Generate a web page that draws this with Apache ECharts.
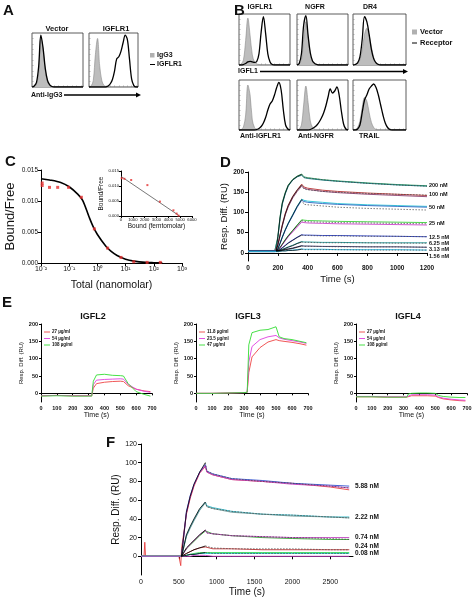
<!DOCTYPE html>
<html><head><meta charset="utf-8">
<script src="https://cdn.jsdelivr.net/npm/echarts@6/dist/echarts.min.js"></script>
<style>html,body{margin:0;padding:0;background:#fff}#c{width:475px;height:598px}</style>
</head><body><div id="c"></div>
<script>
// ================= DATA =================
// Panels A/B: flow-cytometry histograms, 24 log-fluorescence bins, % of max
const bins = [0,1,2,3,4,5,6,7,8,9,10,11,12,13,14,15,16,17,18,19,20,21,22,23];
const aVectorIgG  = [0,1,5,25,92,70,30,10,3,1,0,0,0,0,0,0,0,0,0,0,0,0,0,0];
const aVectorStain= [0,2,8,38,96,72,34,12,4,1,0,0,0,0,0,0,0,0,0,0,0,0,0,0];
const aIgflrIgG   = [0,2,12,60,90,40,12,3,1,0,0,0,0,0,0,0,0,0,0,0,0,0,0,0];
const aIgflrStain = [0,0,0,0,0,0,0,0,0,2,6,14,30,52,56,66,82,96,88,52,15,3,0,0];
const bIgflrVec   = [0,2,10,48,92,58,20,6,2,1,0,0,0,0,0,0,0,0,0,0,0,0,0,0];
const bIgflrRec   = [0,0,1,3,6,7,6,5,7,22,65,95,62,22,6,1,0,0,0,0,0,0,0,0];
const bNgfrVec    = [0,2,10,50,85,55,20,6,2,0,0,0,0,0,0,0,0,0,0,0,0,0,0,0];
const bNgfrRec    = [0,3,22,78,97,58,24,8,3,1,0,0,0,0,0,0,0,0,0,0,0,0,0,0];
const bDr4Vec     = [0,1,3,10,30,60,72,58,35,15,5,2,0,0,0,0,0,0,0,0,0,0,0,0];
const bDr4Rec     = [0,1,4,16,50,95,85,60,30,12,4,1,0,0,0,0,0,0,0,0,0,0,0,0];
const bAIgflrVec  = [0,1,6,30,90,70,20,5,1,0,0,0,0,0,0,0,0,0,0,0,0,0,0,0];
const bAIgflrRec  = [0,0,0,0,0,0,0,0,1,3,7,14,25,40,52,58,70,85,95,80,40,10,2,0];
const bANgfrVec   = [0,2,10,50,88,55,18,5,1,0,0,0,0,0,0,0,0,0,0,0,0,0,0,0];
const bANgfrRec   = [0,0,0,0,0,0,1,3,6,10,16,24,34,48,66,82,74,78,86,70,38,12,2,0];
const bTrailVec   = [0,1,5,18,45,65,58,35,15,5,1,0,0,0,0,0,0,0,0,0,0,0,0,0];
const bTrailRec   = [0,0,2,10,35,60,70,82,88,92,85,70,50,30,14,5,1,0,0,0,0,0,0,0];
const aTitles = ['Vector','IGFLR1'];
const aLegend = ['IgG3','IGFLR1'];
const bTitles = ['IGFLR1','NGFR','DR4'];
const bBottom = ['Anti-IGFLR1','Anti-NGFR','TRAIL'];
const bLegend = ['Vector','Receptor'];

// Panel C: Bound/Free vs total (nM), plus Scatchard inset
const cTotal = [0.011,0.011,0.02,0.039,0.095,0.27,0.78,2.3,6.9,19.5,58,170];
const cBF    = [0.0129,0.0125,0.0122,0.0122,0.0122,0.0106,0.0055,0.0024,0.0009,0.0002,0.0001,0.0001];
const cFitX  = [0.01,0.02,0.05,0.1,0.2,0.3,0.5,0.7,1,2,3,5,10,20,50,100,200];
const cFitY  = [0.0136,0.0134,0.0130,0.0123,0.0111,0.0101,0.0075,0.0059,0.0046,0.0027,0.0019,0.0012,0.0006,0.0003,0.0001,0.00005,0.00002];
const cBound = [60,290,860,2230,3290,4430,4700,4860];
const cBFin  = [0.0126,0.0124,0.0120,0.0103,0.0048,0.0019,0.0008,0.0001];
const cLineX = [0,4950];
const cLineY = [0.0132,0];

// Panel D: IGFL1 on IGFLR1 sensorgrams (RU) by concentration
const tD = [0,180,190,200,215,230,250,270,300,330,360,375,400,500,600,800,1000,1200];
const d200a = [5,5,7,40,90,125,150,168,182,190,195,188,186,181,178,173,169,166];
const d200b = [6,6,8,36,84,120,146,165,180,188,192,186,184,180,177,172,168,165];
const d100a = [4,4,5,20,45,70,98,118,140,156,170,163,160,155,152,148,145,142];
const d100b = [3,3,4,18,42,66,94,114,136,152,165,160,157,152,149,145,142,139];
const d50a  = [5,5,5,10,25,40,58,74,95,116,133,130,128,125,122,119,117,115];
const d50b  = [4,4,4,9,23,38,56,72,92,113,130,127,125,122,120,117,115,113];
const d25a  = [5,5,5,6,14,22,33,43,56,69,82,81,80,79,78,77,76,75];
const d25b  = [4,4,4,5,12,20,30,40,52,64,76,75,74,73,72,71,70,69];
const d12a  = [5,5,5,5,9,13,19,25,32,39,45,44,44,43,43,42,41,40];
const d6a   = [4,4,4,4,7,9,12,15,19,24,28,27,27,26,26,25,25,25];
const d3a   = [5,5,5,5,6,7,9,10,12,15,18,17,17,16,16,15,15,14];
const d1a   = [3,3,3,3,4,5,5,6,7,8,10,9,9,9,8,8,8,7];
const tDfit = [190,200,215,230,250,270,300,330,360,375,400,500,600,800,1000,1200];
const fD200 = [5,40,88,123,148,167,181,189,194,187,185,181,177,172,168,165];
const fD100 = [5,20,44,68,96,117,139,155,168,158,156,152,150,147,145,143];
const fD50  = [5,10,24,39,57,73,94,115,132,120,119,116,113,110,108,106];
const fD25  = [5,6,13,21,32,42,55,68,80,78,77,76,75,74,73,72];
const fD12  = [5,5,8,12,18,24,31,38,44,43,43,42,42,41,41,40];
const fD6   = [5,5,6,8,11,14,18,23,27,26,26,25,25,25,24,24];
const fD3   = [5,5,5,6,8,9,11,14,17,16,16,16,15,15,15,14];
const fD1   = [5,5,5,5,5,6,6,7,9,8,8,8,8,7,7,7];
const dLabels = ['200 nM','100 nM','50 nM','25 nM','12.5 nM','6.25 nM','3.13 nM','1.56 nM'];

// Panel E: IGFL2/3/4 on IGFLR1
const tE = [0,100,200,300,320,330,350,400,450,500,520,550,600,650,690];
const e2a = [-7,-6,-7,-7,-7,15,28,32,34,35,34,22,12,7,5];
const e2b = [-7,-6,-7,-7,-7,25,38,40,41,42,41,26,12,6,3];
const e2c = [-8,-7,-8,-8,-8,35,53,55,52,51,50,28,5,-3,-8];
const e3a = [0,0,1,2,3,60,105,132,148,155,152,150,147,143,139];
const e3b = [0,0,1,2,3,90,135,155,163,167,160,156,152,148,144];
const e3c = [0,0,1,2,3,140,175,182,184,192,163,158,155,150,146];
const e4a = [-10,-10,-11,-11,-11,-8,-7,-7,-7,-8,-12,-16,-19,-21,-22];
const e4b = [-9,-9,-10,-10,-10,-5,-4,-4,-4,-5,-10,-14,-17,-19,-20];
const e4c = [-10,-10,-11,-11,-11,-2,0,1,1,0,-6,-9,-11,-12,-12];
const eTitles = ['IGFL2','IGFL3','IGFL4'];
const e2Legend = ['27 µg/ml','54 µg/ml','108 µg/ml'];
const e3Legend = ['11.8 µg/ml','23.5 µg/ml','47 µg/ml'];
const e4Legend = ['27 µg/ml','54 µg/ml','108 µg/ml'];

// Panel F: IGFL1 on IGFLR1 (low concentrations)
const tF = [0,40,50,60,500,525,535,545,600,650,700,775,850,870,950,1200,1600,2000,2500,2750];
const f588a = [0,0,15,0,0,-10,8,10,45,62,75,89,96,90,87,82,80,78,74,71];
const f588b = [0,0,0,0,0,0,0,8,48,65,77,90,98,91,88,83,81,78,76,75];
const f588c = [0,0,0,0,0,0,0,7,46,63,76,89,97,90,87,82,80,77,75,73];
const f222a = [0,0,0,0,0,0,0,3,22,31,39,50,58,54,52,48,45,44,42,42];
const f222b = [0,0,0,0,0,0,0,3,21,30,38,49,57,53,51,47,45,43,42,41];
const f074a = [0,0,0,0,0,0,0,1,8,12,16,22,27,25,24,22,20,19,18,18];
const f074b = [0,0,0,0,0,0,0,1,8,13,17,23,28,25,24,22,21,20,20,20];
const f024a = [0,0,0,0,0,0,0,0,3,5,7,9,10,9,8,8,7,7,7,7];
const f008a = [0,0,0,0,0,0,0,0,1,2,3,4,4,4,4,4,4,4,4,4];
const f008b = [0,0,0,0,0,0,0,0,1,2,2,3,3,3,3,3,3,3,3,3];
const f000a = [0,0,0,0,0,0,0,0,0,0,1,1,1,0,0,0,0,0,0,0];
const tFfit = [535,545,600,650,700,775,850,870,950,1200,1600,2000,2500,2750];
const fF588 = [0,8,47,64,77,90,100,91,88,83,80,78,75,73];
const fF222 = [0,3,23,32,40,51,58,53,51,48,45,44,42,41];
const fF074 = [0,1,9,13,17,23,28,25,24,22,21,20,19,18];
const fF024 = [0,0,3,5,7,9,11,9,9,8,8,8,7,7];
const fF008 = [0,0,1,2,2,3,4,3,3,3,3,3,3,3];
const fLabels = ['5.88 nM','2.22 nM','0.74 nM','0.24 nM','0.08 nM'];

// ================= CHART =================
const FF = '"Liberation Sans", Arial, Helvetica, sans-serif';
const chart = echarts.init(document.getElementById('c'), null, {renderer:'canvas', width:475, height:598});

const BX = 10; // panel B horizontal offset
const grids = [
  {left:32, top:33, width:51, height:54},
  {left:89, top:33, width:49, height:54},
  {left:229+BX, top:14, width:51, height:51},
  {left:287+BX, top:14, width:51, height:51},
  {left:343+BX, top:14, width:53, height:51},
  {left:229+BX, top:80, width:51, height:50},
  {left:287+BX, top:80, width:51, height:50},
  {left:343+BX, top:80, width:53, height:50},
  {left:41, top:170, width:141, height:93},
  {left:121, top:171, width:71, height:45},
  {left:248, top:172, width:179, height:89},
  {left:41, top:324, width:111, height:78},
  {left:196, top:324, width:112, height:78},
  {left:356, top:324, width:111, height:78},
  {left:141, top:444, width:212, height:132}
];
grids.forEach((g,i)=>{
  g.containLabel = false;
  if (i < 8) { g.show = true; g.borderColor = '#333'; g.borderWidth = 0.8; }
  if (i === 9) { g.show = true; g.backgroundColor = '#fff'; g.borderWidth = 0; }
});

const xAxis = [], yAxis = [];
const axLine = {show:true, lineStyle:{color:'#000', width:1}};
const plain = v => String(v);
function lab(size, extra){ return Object.assign({fontSize:size, fontFamily:FF, color:'#111', fontWeight:'bold'}, extra||{}); }
function nameStyle(size){ return {fontSize:size, fontFamily:FF, color:'#111'}; }

for (let i=0;i<8;i++){
  const hx = {gridIndex:i, type:'value', min:0, max:23, splitNumber:12,
    axisLine:{show:false}, axisTick:{show:true, inside:true, length:1.5, lineStyle:{color:'#888', width:0.6}},
    axisLabel:{show:false}, splitLine:{show:false}};
  xAxis.push(hx);
  yAxis.push(Object.assign({}, hx, {max:100, splitNumber:10}));
}
// C main
const SUP = {'-':'\u207B','0':'\u2070','1':'\u00B9','2':'\u00B2','3':'\u00B3'};
xAxis.push({gridIndex:8, type:'log', logBase:10, min:0.01, max:1000, axisLine:axLine,
  axisTick:{length:3, lineStyle:{color:'#000'}}, splitLine:{show:false},
  axisLabel:lab(7, {margin:3, fontWeight:'normal', formatter:v=>'10'+String(Math.round(Math.log10(v))).split('').map(c=>SUP[c]).join('')}),
  name:'Total (nanomolar)', nameLocation:'middle', nameGap:17, nameTextStyle:nameStyle(10.5)});
yAxis.push({gridIndex:8, type:'value', min:0, max:0.015, interval:0.005, axisLine:axLine,
  axisTick:{show:true, length:3, lineStyle:{color:'#000'}}, splitLine:{show:false},
  axisLabel:lab(6.5, {margin:3, fontWeight:'normal', formatter:v=>v.toFixed(3)}),
  name:'Bound/Free', nameLocation:'middle', nameGap:24, nameTextStyle:nameStyle(13)});
// C inset
xAxis.push({gridIndex:9, type:'value', min:0, max:6000, interval:1000, axisLine:axLine,
  axisTick:{length:2, lineStyle:{color:'#000'}}, splitLine:{show:false},
  axisLabel:lab(4.2, {margin:2, fontWeight:'normal', formatter:plain}),
  name:'Bound (femtomolar)', nameLocation:'middle', nameGap:7, nameTextStyle:nameStyle(6.5)});
yAxis.push({gridIndex:9, type:'value', min:0, max:0.015, interval:0.005, axisLine:axLine,
  axisTick:{show:true, length:2, lineStyle:{color:'#000'}}, splitLine:{show:false},
  axisLabel:lab(4.2, {margin:2, fontWeight:'normal', formatter:v=>v.toFixed(3)}),
  name:'Bound/Free', nameLocation:'middle', nameGap:15, nameTextStyle:nameStyle(6.5)});
// D
xAxis.push({gridIndex:10, type:'value', min:0, max:1200, interval:200, axisLine:axLine,
  axisTick:{length:3, lineStyle:{color:'#000'}}, splitLine:{show:false},
  axisLabel:lab(6.5, {margin:4, formatter:plain}),
  name:'Time (s)', nameLocation:'middle', nameGap:13, nameTextStyle:nameStyle(9.5)});
yAxis.push({gridIndex:10, type:'value', min:-20, max:200, axisLine:axLine,
  axisTick:{show:true, length:3, customValues:[0,50,100,150,200], lineStyle:{color:'#000'}}, splitLine:{show:false},
  axisLabel:lab(6.5, {margin:4, customValues:[0,50,100,150,200]}),
  name:'Resp. Diff. (RU)', nameLocation:'middle', nameGap:13, nameTextStyle:nameStyle(9.5)});
// E (3 panels)
for (let k=0;k<3;k++){
  xAxis.push({gridIndex:11+k, type:'value', min:0, max:700, interval:100, axisLine:axLine,
    axisTick:{length:2, lineStyle:{color:'#000'}}, splitLine:{show:false},
    axisLabel:lab(5.5, {margin:3, formatter:plain}),
    name:'Time (s)', nameLocation:'middle', nameGap:9, nameTextStyle:nameStyle(7)});
  yAxis.push({gridIndex:11+k, type:'value', min:-25, max:200, axisLine:axLine,
    axisTick:{show:true, length:2, customValues:[0,50,100,150,200], lineStyle:{color:'#000'}}, splitLine:{show:false},
    axisLabel:lab(5.5, {margin:3, customValues:[0,50,100,150,200]}),
    name:'Resp. Diff. (RU)', nameLocation:'middle', nameGap:17, nameTextStyle:nameStyle(6)});
}
// F
xAxis.push({gridIndex:14, type:'value', min:0, max:2800, axisLine:axLine,
  axisTick:{length:3, customValues:[0,500,1000,1500,2000,2500], lineStyle:{color:'#000'}}, splitLine:{show:false},
  axisLabel:lab(7, {margin:4, fontWeight:'normal', formatter:plain, customValues:[0,500,1000,1500,2000,2500]}),
  name:'Time (s)', nameLocation:'middle', nameGap:12, nameTextStyle:nameStyle(10)});
yAxis.push({gridIndex:14, type:'value', min:-20, max:120, interval:20, axisLine:axLine,
  axisTick:{show:true, length:3, lineStyle:{color:'#000'}}, splitLine:{show:false},
  axisLabel:lab(7, {margin:4, fontWeight:'normal', showMinLabel:false}),
  name:'Resp. Diff. (RU)', nameLocation:'middle', nameGap:17, nameTextStyle:nameStyle(10)});

const series = [];
function pairs(xs, ys){ return ys.map((y,i)=>[xs[i], y]); }
function line(gi, xs, ys, color, width, extra){
  series.push(Object.assign({type:'line', xAxisIndex:gi, yAxisIndex:gi, data:pairs(xs,ys),
    symbol:'none', silent:true, lineStyle:{color:color, width:width}}, extra||{}));
}
// histograms
const hists = [
  [0,aVectorIgG,aVectorStain],[1,aIgflrIgG,aIgflrStain],
  [2,bIgflrVec,bIgflrRec],[3,bNgfrVec,bNgfrRec],[4,bDr4Vec,bDr4Rec],
  [5,bAIgflrVec,bAIgflrRec],[6,bANgfrVec,bANgfrRec],[7,bTrailVec,bTrailRec]
];
hists.forEach(([gi,ctrl,stain])=>{
  line(gi, bins, ctrl, '#8a8a8a', 0.6, {smooth:0.35, areaStyle:{color:'#bdbdbd', opacity:1}, z:2});
  line(gi, bins, stain, '#000', 1.3, {smooth:0.35, z:3});
});
// C
line(8, cFitX, cFitY, '#000', 1.6, {smooth:0.3, z:2});
series.push({type:'scatter', xAxisIndex:8, yAxisIndex:8, data:pairs(cTotal,cBF), symbol:'rect', symbolSize:3, itemStyle:{color:'#e53030'}, silent:true, z:3});
line(9, cLineX, cLineY, '#555', 0.8, {z:2});
series.push({type:'scatter', xAxisIndex:9, yAxisIndex:9, data:pairs(cBound,cBFin), symbol:'rect', symbolSize:2, itemStyle:{color:'#e53030'}, silent:true, z:3});
// D
const dTraces = [
  [d200a,'#2e9e5b'],[d200b,'#157a80'],[d100a,'#b83232'],[d100b,'#8a3c6c'],
  [d50a,'#25c3d6'],[d50b,'#2a66c0'],[d25a,'#3ccf3c'],[d25b,'#cc44cc'],
  [d12a,'#2b3fc4'],[d6a,'#1f9b9b'],[d3a,'#303060'],[d1a,'#22b5e0']
];
dTraces.forEach(([arr,col])=>line(10, tD, arr, col, 0.9, {z:2}));
[fD200,fD100,fD50,fD25,fD12,fD6,fD3,fD1].forEach(arr=>{
  line(10, tDfit.slice(0,9), arr.slice(0,9), '#000', 0.7, {z:3});
  line(10, tDfit.slice(8), arr.slice(8), '#444', 0.7, {z:3, lineStyle:{color:'#444', width:0.7, type:[1.5,1.5]}});
});
// E
const eCols = ['#ee4444','#e040e0','#33dd33'];
[[11,[e2a,e2b,e2c]],[12,[e3a,e3b,e3c]],[13,[e4a,e4b,e4c]]].forEach(([gi,arrs])=>{
  arrs.forEach((arr,k)=>line(gi, tE, arr, eCols[k], 0.9, {z:2+k}));
});
// F
const fTraces = [
  [f588a,'#e84040'],[f588b,'#3050d0'],[f588c,'#c040c0'],
  [f222a,'#28b8c8'],[f222b,'#6a9a9a'],
  [f074a,'#2aa02a'],[f074b,'#c040c0'],
  [f024a,'#c03030'],[f008a,'#33dd55'],[f008b,'#22cccc'],[f000a,'#c040c0']
];
fTraces.forEach(([arr,col])=>line(14, tF, arr, col, 0.9, {z:2}));
[fF588,fF222,fF074,fF024,fF008].forEach(arr=>{
  line(14, tFfit.slice(0,7), arr.slice(0,7), '#000', 0.8, {z:3});
  line(14, tFfit.slice(6), arr.slice(6), '#444', 0.7, {z:3, lineStyle:{color:'#444', width:0.7, type:[1.5,1.5]}});
});

// ---------- graphic texts / arrows / legends ----------
const G = [];
function txt(text, x, y, size, o){
  o = o||{};
  G.push({type:'text', x:x, y:y, rotation:o.rot||0, z:100, silent:true,
    style:{text:text, fontSize:size, fontWeight:o.w||'bold', fontFamily:FF, fill:o.fill||'#111',
      align:o.align||'left', verticalAlign:o.va||'middle'}});
}
function arrow(x1, x2, y){
  G.push({type:'line', z:100, silent:true, shape:{x1:x1,y1:y,x2:x2-4,y2:y}, style:{stroke:'#000', lineWidth:1.3}});
  G.push({type:'polygon', z:100, silent:true, shape:{points:[[x2-5,y-2.5],[x2,y],[x2-5,y+2.5]]}, style:{fill:'#000'}});
}
// panel letters
[['A',3,10.5],['B',234,10.5],['C',5,162],['D',220,163],['E',2,303],['F',106,443]].forEach(([t,x,y])=>txt(t,x,y,15));
// A
txt(aTitles[0], 57, 29, 7.5, {align:'center'});
txt(aTitles[1], 116, 29, 7.5, {align:'center'});
txt('Anti-IgG3', 31, 95, 7, {});
arrow(64, 141, 95);
G.push({type:'rect', z:100, silent:true, shape:{x:150,y:53,width:4.5,height:4.5}, style:{fill:'#b0b0b0'}});
txt(aLegend[0], 157, 55.5, 7);
G.push({type:'line', z:100, silent:true, shape:{x1:150,y1:64.5,x2:155,y2:64.5}, style:{stroke:'#000', lineWidth:1}});
txt(aLegend[1], 157, 64.5, 7);
// B
txt(bTitles[0], 250+BX, 7.5, 7, {align:'center'});
txt(bTitles[1], 305+BX, 7.5, 7, {align:'center'});
txt(bTitles[2], 360+BX, 7.5, 7, {align:'center'});
txt('IGFL1', 228+BX, 71.5, 7);
arrow(250+BX, 398+BX, 71.5);
txt(bBottom[0], 230+BX, 136, 7);
txt(bBottom[1], 288+BX, 136, 7);
txt(bBottom[2], 349+BX, 136, 7);
G.push({type:'rect', z:100, silent:true, shape:{x:402+BX,y:29.5,width:5,height:5}, style:{fill:'#b0b0b0'}});
txt(bLegend[0], 410+BX, 32, 7.5);
G.push({type:'line', z:100, silent:true, shape:{x1:402+BX,y1:43,x2:407+BX,y2:43}, style:{stroke:'#000', lineWidth:1}});
txt(bLegend[1], 410+BX, 43, 7.5);
// D labels
const dLabY = [185,194,207,223,237,243,249,256];
dLabels.forEach((t,i)=>txt(t, 429, dLabY[i], 5.5));
// E titles + legends
const eLeft = [41,196,356];
const eLegs = [e2Legend,e3Legend,e4Legend];
eTitles.forEach((t,k)=>{
  txt(t, eLeft[k]+52, 317, 9, {align:'center'});
  eLegs[k].forEach((s,j)=>{
    const y = 332 + j*6.5;
    G.push({type:'line', z:100, silent:true, shape:{x1:eLeft[k]+3,y1:y,x2:eLeft[k]+9,y2:y}, style:{stroke:eCols[j], lineWidth:0.9}});
    txt(s, eLeft[k]+11, y, 4.5);
  });
});
// F labels
const fLabY = [486,517,537,546,553];
fLabels.forEach((t,i)=>txt(t, 355, fLabY[i], 6.5));

chart.setOption({
  animation:false,
  backgroundColor:'#fff',
  grid:grids, xAxis:xAxis, yAxis:yAxis, series:series, graphic:G
});
</script></body></html>
